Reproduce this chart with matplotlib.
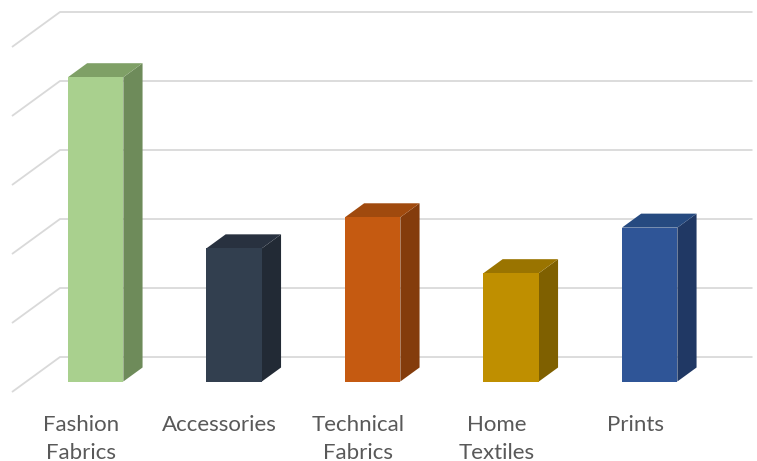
import matplotlib
matplotlib.use("Agg")
import matplotlib.pyplot as plt
from matplotlib.patches import Polygon

# data (value axis has no labels; units = gridline steps)
categories = ["Fashion\nFabrics", "Accessories", "Technical\nFabrics", "Home\nTextiles", "Prints"]
values = [4.41, 1.93, 2.38, 1.57, 2.23]
gridlines = [0, 1, 2, 3, 4, 5]

front_colors = ["#A9D08E", "#323F4F", "#C55A11", "#BF8F00", "#2F5597"]
side_colors = ["#6E8B5A", "#222A35", "#843C0C", "#7F6000", "#203864"]
top_colors = ["#7FA066", "#28313F", "#A04A0E", "#9A7400", "#264A80"]

# oblique projection: full depth offset in data units (x: categories, y: value)
DX, DY = 0.3466, 0.507
bar_w = 0.4
d0, d1 = 0.3, 0.7   # bar depth range (0 = front of floor, 1 = back wall)


def proj(x, y, d):
    return (x + DX * d, y + DY * d)


fig = plt.figure(figsize=(7.57, 4.61), dpi=100)
ax = fig.add_axes([0, 0, 1, 1])
ax.set_xlim(-0.0866, 5.379)
ax.set_ylim(-1.0, 5.681)
ax.axis("off")

n = len(categories)
grid_c = "#D9D9D9"
for v in gridlines:
    xa, ya = proj(0, v, 0)
    xb, yb = proj(0, v, 1)
    xc, yc = proj(n, v, 1)
    ax.plot([xa, xb, xc], [ya, yb, yc], color=grid_c, lw=1.3, zorder=1,
            solid_capstyle="butt")

for i, (val, fc, sc, tc) in enumerate(zip(values, front_colors, side_colors, top_colors)):
    xl = i + 0.5 - bar_w / 2
    xr = xl + bar_w
    front = [proj(xl, 0, d0), proj(xr, 0, d0), proj(xr, val, d0), proj(xl, val, d0)]
    side = [proj(xr, 0, d0), proj(xr, 0, d1), proj(xr, val, d1), proj(xr, val, d0)]
    top = [proj(xl, val, d0), proj(xr, val, d0), proj(xr, val, d1), proj(xl, val, d1)]
    ax.add_patch(Polygon(side, closed=True, fc=sc, ec="none", zorder=2))
    ax.add_patch(Polygon(top, closed=True, fc=tc, ec="none", zorder=2))
    ax.add_patch(Polygon(front, closed=True, fc=fc, ec="none", zorder=3))

for i, lab in enumerate(categories):
    ax.text(i + 0.5, -0.34, lab, ha="center", va="top", fontsize=16,
            family="Lato", color="#595959", linespacing=1.45)

fig.savefig("out.png", dpi=100)
